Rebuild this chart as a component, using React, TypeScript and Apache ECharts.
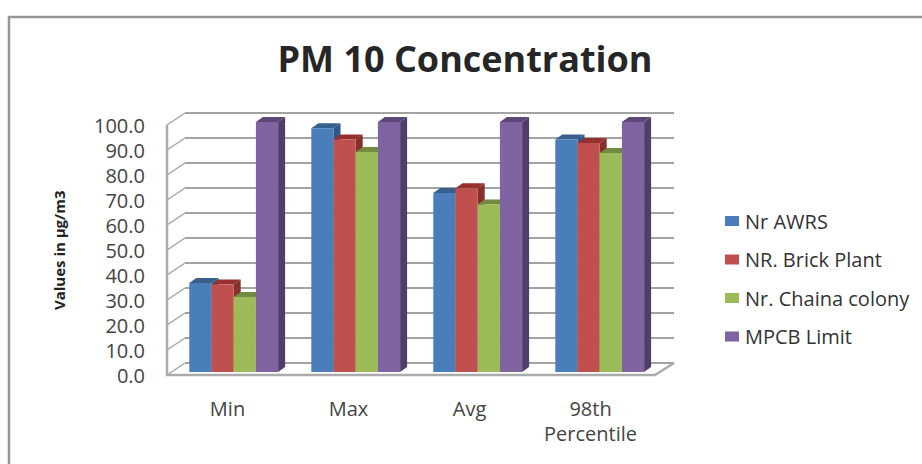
import React, { useEffect, useRef } from "react";
import * as echarts from "echarts";

const categories = ["Min", "Max", "Avg", "98th\nPercentile"];
const seriesNames = ["Nr AWRS", "NR. Brick Plant", "Nr. Chaina colony", "MPCB Limit"];
const nrAwrs = [35.6, 97.5, 71.6, 93];
const nrBrick = [35, 93, 73.5, 91.6];
const nrChaina = [30, 88, 67, 87.6];
const mpcbLimit = [100, 100, 100, 100];
const frontColors = ["#4a7ebb", "#c0504d", "#9bbb59", "#8064a2"];
const topColors = ["#37608f", "#98302e", "#728a41", "#5c4776"];
const sideColors = ["#2f5788", "#862f2d", "#66803a", "#503e6a"];
const yTicks = [0, 10, 20, 30, 40, 50, 60, 70, 80, 90, 100];
const FONT = "Open Sans";

const DX = 7;
const DY = 5;
const BAR_SHARE = 22.2 / 122;

function barSeries(name: string, values: number[], i: number) {
  return {
    type: "custom",
    name,
    xAxisIndex: 0,
    yAxisIndex: 0,
    z: 5,
    silent: true,
    itemStyle: { color: frontColors[i] },
    encode: { x: 0, y: 1 },
    data: values.map((v, c) => [c, v]),
    renderItem: (_: any, api: any) => {
      const top = api.coord([api.value(0), api.value(1)]);
      const base = api.coord([api.value(0), 0]);
      const w = api.size([1, 0])[0] * BAR_SHARE;
      const x = top[0] + (i - 2) * w;
      const y = top[1];
      const b = base[1];
      return {
        type: "group",
        children: [
          {
            type: "polygon",
            shape: { points: [[x + w, y], [x + w + DX, y - DY], [x + w + DX, b - DY], [x + w, b]] },
            style: { fill: sideColors[i] },
          },
          {
            type: "polygon",
            shape: { points: [[x, y], [x + DX, y - DY], [x + w + DX, y - DY], [x + w, y]] },
            style: { fill: topColors[i] },
          },
          { type: "rect", shape: { x, y, width: w, height: b - y }, style: { fill: frontColors[i] } },
        ],
      };
    },
  };
}

export default function App() {
  const ref = useRef<HTMLDivElement>(null);
  useEffect(() => {
    const chart = echarts.init(ref.current!, null, { renderer: "svg" });
    const hiddenX = (gridIndex: number) => ({
      type: "category",
      gridIndex,
      data: categories,
      show: false,
    });
    const hiddenY = (gridIndex: number, splitLine: boolean) => ({
      type: "value",
      gridIndex,
      min: 0,
      max: 100,
      interval: 10,
      axisLine: { show: false },
      axisTick: { show: false },
      axisLabel: { show: false },
      splitLine: { show: splitLine, lineStyle: { color: "#a3a3a3", width: 2 } },
    });
    chart.setOption({
      animation: false,
      backgroundColor: "#ffffff",
      title: {
        text: "PM 10 Concentration",
        left: 460,
        top: 35,
        textAlign: "center",
        textStyle: { fontFamily: FONT, fontSize: 36, fontWeight: "bold", color: "#262626" },
      },
      legend: {
        orient: "vertical",
        left: 720,
        top: 206,
        data: seriesNames,
        icon: "rect",
        itemWidth: 14,
        itemHeight: 10,
        itemGap: 18.5,
        textStyle: { fontFamily: FONT, fontSize: 20, color: "#333333", padding: [0, 0, 0, 1] },
      },
      grid: [
        { left: 172.7, top: 122, width: 488, height: 250 },
        { left: 185, top: 113, width: 489, height: 250 },
        { left: 167, top: 125, width: 484, height: 250.5 },
      ],
      xAxis: [
        hiddenX(0),
        hiddenX(1),
        {
          type: "category",
          gridIndex: 2,
          data: categories,
          axisLine: { show: false },
          axisTick: { show: false },
          axisLabel: {
            fontFamily: FONT,
            fontSize: 20,
            color: "#444444",
            margin: 20,
            lineHeight: 25,
            interval: 0,
          },
        },
      ],
      yAxis: [
        hiddenY(0, false),
        hiddenY(1, true),
        {
          type: "value",
          gridIndex: 2,
          min: 0,
          max: 100,
          interval: 10,
          name: "Values in \u00b5g/m3",
          nameLocation: "middle",
          nameRotate: 90,
          nameGap: 101,
          nameTextStyle: { fontFamily: FONT, fontSize: 15, fontWeight: "bold", color: "#222222" },
          axisLine: { show: false },
          axisTick: { show: false },
          splitLine: { show: false },
          axisLabel: {
            formatter: (v: number) => v.toFixed(1),
            fontFamily: FONT,
            fontSize: 20,
            color: "#444444",
            margin: 22,
          },
        },
      ],
      series: [
        {
          type: "custom",
          name: "wall",
          xAxisIndex: 1,
          yAxisIndex: 1,
          z: 2,
          silent: true,
          encode: { y: 0 },
          data: yTicks.map((t) => [t]),
          renderItem: (params: any, api: any) => {
            const cs = params.coordSys;
            const y = api.coord([0, api.value(0)])[1];
            return {
              type: "line",
              shape: { x1: cs.x, y1: y, x2: cs.x - 18, y2: y + 12 },
              style: { stroke: "#a6a6a6", lineWidth: 1.5 },
            };
          },
        },
        {
          type: "custom",
          name: "floor",
          xAxisIndex: 1,
          yAxisIndex: 1,
          z: 6,
          silent: true,
          encode: { y: 0 },
          data: [[0]],
          renderItem: (params: any) => {
            const cs = params.coordSys;
            const fx = cs.x - 18;
            const fy = cs.y + cs.height + 12;
            return {
              type: "group",
              children: [
                {
                  type: "polyline",
                  shape: { points: [[fx, cs.y + 12], [fx, fy], [cs.x + cs.width - 19, fy], [cs.x + cs.width, cs.y + cs.height]] },
                  style: { stroke: "#ababab", lineWidth: 2.5, fill: "none" },
                },
              ],
            };
          },
        },
        barSeries(seriesNames[0], nrAwrs, 0),
        barSeries(seriesNames[1], nrBrick, 1),
        barSeries(seriesNames[2], nrChaina, 2),
        barSeries(seriesNames[3], mpcbLimit, 3),
      ],
      graphic: [
        {
          type: "polyline",
          shape: { points: [[9, 464], [9, 17], [922, 17]] },
          style: { stroke: "#969696", lineWidth: 2.5, fill: "none" },
        },
      ],
    });
    return () => chart.dispose();
  }, []);
  return <div ref={ref} style={{ position: "absolute", left: 0, top: 0, width: 922, height: 464 }} />;
}
